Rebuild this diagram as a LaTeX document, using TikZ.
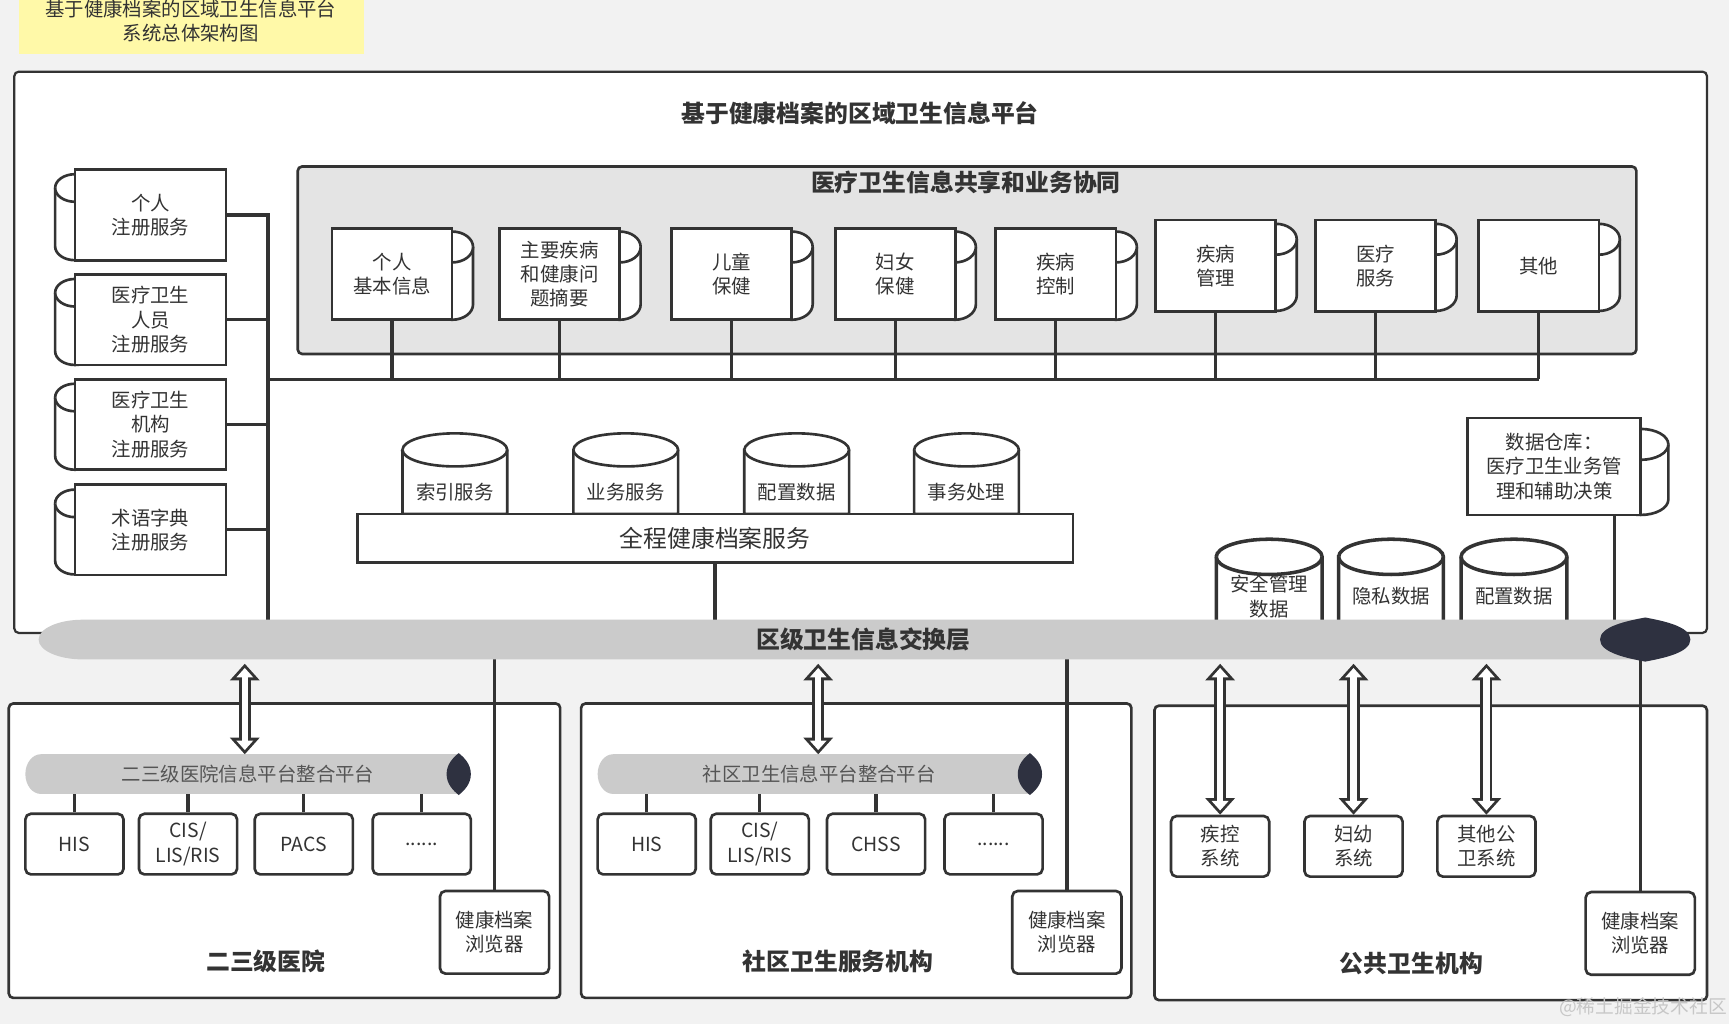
\documentclass[tikz,border=0pt]{standalone}
\usepackage{fontspec}
\setmainfont{Noto Sans CJK SC}
\usetikzlibrary{arrows.meta}

\definecolor{bgcol}{HTML}{F2F2F2}
\definecolor{inkcol}{HTML}{333333}
\definecolor{notecol}{HTML}{FFF9A8}
\definecolor{sharecol}{HTML}{E4E4E4}
\definecolor{pipecol}{HTML}{CBCBCB}
\definecolor{capcol}{HTML}{2E3140}
\definecolor{subtxt}{HTML}{555555}

% drum peeking out behind a box: left, right, top, bottom, y radius
\newcommand{\sidedrum}[5]{%
  \filldraw[drum] (#1,#3-#5) -- (#1,#4+#5)
    arc[start angle=180,end angle=360,x radius=#2/2-#1/2,y radius=#5]
    -- (#2,#3-#5)
    arc[start angle=0,end angle=180,x radius=#2/2-#1/2,y radius=#5] -- cycle;
  \draw[drum] (#1,#3-#5) arc[start angle=180,end angle=360,x radius=#2/2-#1/2,y radius=#5];}
% standing drum, foot hidden: [style] left, right, top, bottom, y radius
\newcommand{\topdrum}[6][]{%
  \filldraw[drum,#1] (#2,#4-#6) -- (#2,#5) -- (#3,#5) -- (#3,#4-#6)
    arc[start angle=0,end angle=180,x radius=#3/2-#2/2,y radius=#6] -- cycle;
  \draw[drum,#1] (#2,#4-#6) arc[start angle=180,end angle=360,x radius=#3/2-#2/2,y radius=#6];}

\begin{document}
\begin{tikzpicture}[>=latex,line join=miter,
  txt/.style={font=\fontsize{8.8bp}{11bp}\selectfont,text=inkcol,align=center},
  head/.style={font=\fontsize{10.8bp}{13bp}\selectfont\bfseries,text=inkcol,align=center},
  drum/.style={draw=inkcol,fill=white,line width=1.2bp},
  regbox/.style={txt,draw=inkcol,fill=white,line width=1.2bp,inner sep=0pt,minimum width=68.5bp,minimum height=41bp},
  recbox/.style={regbox,minimum width=54.5bp,minimum height=41.5bp},
  sysbox/.style={regbox,rounded corners=2.5bp,minimum width=44.5bp,minimum height=27.5bp},
  viewbox/.style={regbox,rounded corners=2.5bp,minimum width=49.5bp,minimum height=37.5bp},
  wire/.style={draw=inkcol,line width=1.5bp},
  zone/.style={draw=inkcol,fill=white,line width=1.2bp,rounded corners=2bp},
  hollowout/.style={draw=inkcol,line width=5.5bp,
    arrows={Triangle[length=7.5bp,width=13.5bp,line width=0pt]-Triangle[length=7.5bp,width=13.5bp,line width=0pt]}},
  hollowin/.style={draw=white,line width=2.9bp,shorten <=1.9bp,shorten >=1.9bp,
    arrows={Triangle[length=4.3bp,width=7.7bp,line width=0pt]-Triangle[length=4.3bp,width=7.7bp,line width=0pt]}},
]
\useasboundingbox (0bp,0bp) rectangle (784bp,464.5bp);
\fill [bgcol] (0bp,0bp) rectangle (784bp,464.5bp);
%%
\fill [notecol] (8.5bp,440bp) rectangle (165bp,464.5bp);
\node (note) at (86.5bp,455bp) [txt] {基于健康档案的区域卫生信息平台\\系统总体架构图};
\draw [draw=inkcol,fill=white,line width=1bp,rounded corners=2bp] (6.5bp,177.5bp) rectangle (774bp,432bp);
\node (platform) at (390bp,413bp) [head] {基于健康档案的区域卫生信息平台};
\coordinate (pipetop) at (0bp,183.5bp);
\coordinate (pipebot) at (0bp,165.5bp);
\coordinate (lbus) at (121.5bp,0bp);
\coordinate (hbus) at (0bp,292.5bp);
%
\sidedrum{25bp}{43bp}{385.5bp}{346.5bp}{6.25bp}
\sidedrum{25bp}{43bp}{338bp}{299bp}{6.25bp}
\sidedrum{25bp}{43bp}{290.5bp}{251.5bp}{6.25bp}
\sidedrum{25bp}{43bp}{242.5bp}{204bp}{6.25bp}
\node (reg_1) at (68.25bp,367bp) [regbox] {个人\\注册服务};
  \node (reg_2) at (68.25bp,319.5bp) [regbox] {医疗卫生\\人员\\注册服务};
  \node (reg_3) at (68.25bp,272bp) [regbox] {医疗卫生\\机构\\注册服务};
  \node (reg_4) at (68.25bp,224.25bp) [regbox] {术语字典\\注册服务};
  \draw [wire] (reg_1.east) -- (reg_1.east -| lbus) -- (lbus |- pipetop);
  \draw [wire] (reg_2.east) -- (reg_2.east -| lbus);
  \draw [wire] (reg_3.east) -- (reg_3.east -| lbus);
  \draw [wire] (reg_4.east) -- (reg_4.east -| lbus);
%
\draw [draw=inkcol,fill=sharecol,line width=1.2bp,rounded corners=2bp] (135bp,304bp) rectangle (742bp,389bp);
\node (share) at (438bp,382bp) [head] {医疗卫生信息共享和业务协同};
\sidedrum{195.5bp}{214.5bp}{359.5bp}{319.5bp}{7bp}
\sidedrum{271.5bp}{290.5bp}{359.5bp}{319.5bp}{7bp}
\sidedrum{349.5bp}{368.5bp}{359.5bp}{319.5bp}{7bp}
\sidedrum{423.5bp}{442.5bp}{359.5bp}{319.5bp}{7bp}
\sidedrum{496.5bp}{515.5bp}{359.5bp}{319.5bp}{7bp}
\sidedrum{569bp}{588bp}{363bp}{323.5bp}{7bp}
\sidedrum{641.5bp}{660.5bp}{363bp}{323.5bp}{7bp}
\sidedrum{715.5bp}{734.5bp}{363bp}{323.5bp}{7bp}
\node (rec_1) at (177.75bp,340.25bp) [recbox] {个人\\基本信息};
  \node (rec_2) at (253.75bp,340.25bp) [recbox] {主要疾病\\和健康问\\题摘要};
  \node (rec_3) at (331.75bp,340.25bp) [recbox] {儿童\\保健};
  \node (rec_4) at (406bp,340.25bp) [recbox] {妇女\\保健};
  \node (rec_5) at (478.75bp,340.25bp) [recbox] {疾病\\控制};
  \node (rec_6) at (551.25bp,344bp) [recbox] {疾病\\管理};
  \node (rec_7) at (623.75bp,344bp) [recbox] {医疗\\服务};
  \node (rec_8) at (697.75bp,344bp) [recbox] {其他};
  \draw [wire] (lbus |- hbus) -- (rec_8.south |- hbus);
  \draw [wire] (rec_1.south) -- (rec_1.south |- hbus);
  \draw [wire] (rec_2.south) -- (rec_2.south |- hbus);
  \draw [wire] (rec_3.south) -- (rec_3.south |- hbus);
  \draw [wire] (rec_4.south) -- (rec_4.south |- hbus);
  \draw [wire] (rec_5.south) -- (rec_5.south |- hbus);
  \draw [wire] (rec_6.south) -- (rec_6.south |- hbus);
  \draw [wire] (rec_7.south) -- (rec_7.south |- hbus);
  \draw [wire] (rec_8.south) -- (rec_8.south |- hbus);
%
\topdrum{182.5bp}{230bp}{268bp}{231.5bp}{7.5bp}
\topdrum{260bp}{307.5bp}{268bp}{231.5bp}{7.5bp}
\topdrum{337.5bp}{385bp}{268bp}{231.5bp}{7.5bp}
\topdrum{414.5bp}{462bp}{268bp}{231.5bp}{7.5bp}
\node (svc_1) at (206.25bp,241.5bp) [txt] {索引服务};
  \node (svc_2) at (283.75bp,241.5bp) [txt] {业务服务};
  \node (svc_3) at (361.25bp,241.5bp) [txt] {配置数据};
  \node (svc_4) at (438.25bp,241.5bp) [txt] {事务处理};
  \node (ehr) at (324.25bp,220.5bp) [regbox,minimum width=324.5bp,minimum height=22bp,font=\fontsize{10.8bp}{13bp}\selectfont] {全程健康档案服务};
  \draw [wire] (ehr.south) -- (ehr.south |- pipetop);
%
\sidedrum{731.5bp}{756.5bp}{270bp}{231bp}{7bp}
\node (dw) at (704.75bp,253bp) [regbox,minimum width=78.5bp,minimum height=44bp] {数据仓库：\\医疗卫生业务管\\理和辅助决策};
  \coordinate (dw_tap) at ([xshift=27.25bp]dw.south);
  \draw [wire] (dw_tap) -- (dw_tap |- pipetop);
\topdrum[line width=1.6bp]{551.5bp}{599.5bp}{220bp}{176bp}{8bp}
\topdrum[line width=1.6bp]{607bp}{654.5bp}{220bp}{176bp}{8bp}
\topdrum[line width=1.6bp]{662.5bp}{710.5bp}{220bp}{176bp}{8bp}
\node (sec) at (575.5bp,194bp) [txt] {安全管理\\数据};
  \node (priv) at (630.75bp,194bp) [txt] {隐私数据};
  \node (conf) at (686.5bp,194bp) [txt] {配置数据};
%
\draw [zone] (4bp,12bp) rectangle (254bp,145.5bp);
\draw [zone] (263.5bp,12bp) rectangle (513bp,145.5bp);
\draw [zone] (523.5bp,11bp) rectangle (774bp,144.5bp);
\node (zone_a) at (120.5bp,28.5bp) [head] {二三级医院};
  \node (zone_b) at (380bp,28.5bp) [head] {社区卫生服务机构};
  \node (zone_c) at (640bp,27.5bp) [head] {公共卫生机构};
\coordinate (subtop) at (0bp,122.5bp);
\coordinate (sublow) at (0bp,104.5bp);
\fill [pipecol] (208bp,122.5bp) -- (18.5bp,122.5bp) arc[start angle=90,end angle=270,x radius=7bp,y radius=9bp] -- (208bp,104.5bp) -- cycle;
\fill [capcol] (202.5bp,113.5bp) ..controls (202.5bp,118bp) and (205.5bp,121bp) .. (208bp,123bp)
  ..controls (210.5bp,121bp) and (213.5bp,118bp) .. (213.5bp,113.5bp)
  ..controls (213.5bp,109bp) and (210.5bp,106bp) .. (208bp,104bp)
  ..controls (205.5bp,106bp) and (202.5bp,109bp) .. (202.5bp,113.5bp) -- cycle;
\fill [pipecol] (467bp,122.5bp) -- (278bp,122.5bp) arc[start angle=90,end angle=270,x radius=7bp,y radius=9bp] -- (467bp,104.5bp) -- cycle;
\fill [capcol] (461.5bp,113.5bp) ..controls (461.5bp,118bp) and (464.5bp,121bp) .. (467bp,123bp)
  ..controls (469.5bp,121bp) and (472.5bp,118bp) .. (472.5bp,113.5bp)
  ..controls (472.5bp,109bp) and (469.5bp,106bp) .. (467bp,104bp)
  ..controls (464.5bp,106bp) and (461.5bp,109bp) .. (461.5bp,113.5bp) -- cycle;
\node (hosp_bus) at (112.5bp,113.5bp) [txt,text=subtxt] {二三级医院信息平台整合平台};
  \node (comm_bus) at (371.5bp,113.5bp) [txt,text=subtxt] {社区卫生信息平台整合平台};
%
\node (his_a) at (33.75bp,81.75bp) [sysbox] {HIS};
  \node (cis_a) at (85.25bp,81.75bp) [sysbox] {CIS/\\LIS/RIS};
  \node (pacs_a) at (137.75bp,81.75bp) [sysbox] {PACS};
  \node (etc_a) at (191.25bp,81.75bp) [sysbox] {......};
  \node (his_b) at (293.25bp,81.75bp) [sysbox] {HIS};
  \node (cis_b) at (344.5bp,81.75bp) [sysbox] {CIS/\\LIS/RIS};
  \node (chss_b) at (397.25bp,81.75bp) [sysbox] {CHSS};
  \node (etc_b) at (450.5bp,81.75bp) [sysbox] {......};
  \node (cdc) at (553.25bp,80.75bp) [sysbox] {疾控\\系统};
  \node (mch) at (613.75bp,80.75bp) [sysbox] {妇幼\\系统};
  \node (pub) at (674bp,80.75bp) [sysbox] {其他公\\卫系统};
  \draw [wire] (his_a.north) -- (his_a.north |- sublow);
  \draw [wire] (cis_a.north) -- (cis_a.north |- sublow);
  \draw [wire] (pacs_a.north) -- (pacs_a.north |- sublow);
  \draw [wire] (etc_a.north) -- (etc_a.north |- sublow);
  \draw [wire] (his_b.north) -- (his_b.north |- sublow);
  \draw [wire] (cis_b.north) -- (cis_b.north |- sublow);
  \draw [wire] (chss_b.north) -- (chss_b.north |- sublow);
  \draw [wire] (etc_b.north) -- (etc_b.north |- sublow);
\node (view_a) at (224.25bp,41.75bp) [viewbox] {健康档案\\浏览器};
  \node (view_b) at (483.75bp,41.75bp) [viewbox] {健康档案\\浏览器};
  \node (view_c) at (743.75bp,41.25bp) [viewbox] {健康档案\\浏览器};
  \draw [wire] (view_a.north) -- (view_a.north |- pipebot);
  \draw [wire] (view_b.north) -- (view_b.north |- pipebot);
  \draw [wire] (view_c.north) -- (view_c.north |- pipebot);
%
\fill [pipecol] (746bp,183.5bp) -- (37.5bp,183.5bp) arc[start angle=90,end angle=270,x radius=20bp,y radius=9bp] -- (746bp,165.5bp) -- cycle;
\fill [capcol] (725.5bp,174.5bp) ..controls (725.5bp,180.5bp) and (738bp,183bp) .. (746bp,184.5bp)
  ..controls (754bp,183bp) and (766.5bp,180.5bp) .. (766.5bp,174.5bp)
  ..controls (766.5bp,168.5bp) and (754bp,166bp) .. (746bp,164.5bp)
  ..controls (738bp,166bp) and (725.5bp,168.5bp) .. (725.5bp,174.5bp) -- cycle;
\node (xchg) at (391.5bp,174.5bp) [head] {区级卫生信息交换层};
%
\coordinate (up_a) at (111bp,163.5bp);
\coordinate (dn_a) at (111bp,122.5bp);
\coordinate (up_b) at (371bp,163.5bp);
\coordinate (dn_b) at (371bp,122.5bp);
  \draw [hollowout] (up_a) -- (dn_a);
  \draw [hollowin] (up_a) -- (dn_a);
  \draw [hollowout] (up_b) -- (dn_b);
  \draw [hollowin] (up_b) -- (dn_b);
  \draw [hollowout] (cdc.north |- up_a) -- (cdc.north);
  \draw [hollowin] (cdc.north |- up_a) -- (cdc.north);
  \draw [hollowout] (mch.north |- up_a) -- (mch.north);
  \draw [hollowin] (mch.north |- up_a) -- (mch.north);
  \draw [hollowout] (pub.north |- up_a) -- (pub.north);
  \draw [hollowin] (pub.north |- up_a) -- (pub.north);
\node (mark) at (745bp,8bp) [font=\fontsize{8.5bp}{10bp}\selectfont,text=black!22] {@稀土掘金技术社区};
%
\end{tikzpicture}
\end{document}
